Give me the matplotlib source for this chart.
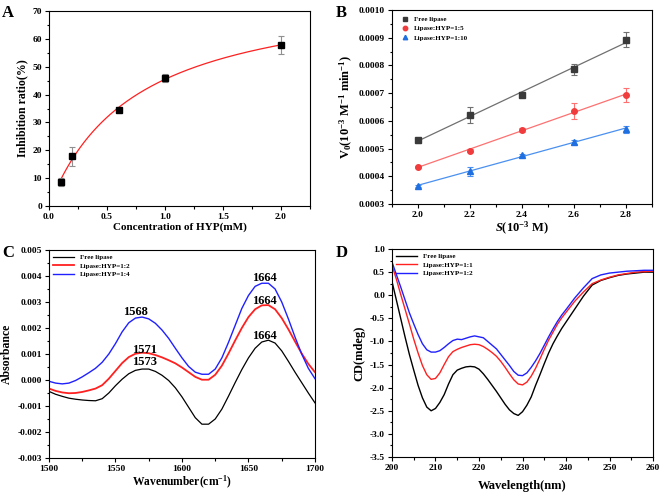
import numpy as np
import matplotlib
matplotlib.use('Agg')
import matplotlib.pyplot as plt
from matplotlib.ticker import MultipleLocator, FormatStrFormatter

plt.rcParams['font.family'] = 'Liberation Serif'
plt.rcParams['font.weight'] = 'bold'
plt.rcParams['axes.labelweight'] = 'bold'
plt.rcParams['axes.unicode_minus'] = False
plt.rcParams['mathtext.fontset'] = 'custom'
plt.rcParams['mathtext.rm'] = 'Liberation Serif:bold'
plt.rcParams['mathtext.it'] = 'Liberation Serif:italic:bold'
plt.rcParams['mathtext.bf'] = 'Liberation Serif:bold'

# ---- A: inhibition ratio
conc = [0.1, 0.2, 0.6, 1.0, 2.0]
inhib = [8.7, 17.8, 34.5, 46.0, 57.8]
inhib_err = [1.5, 3.5, 0.8, 1.5, 3.4]

# ---- B: V0 vs S
s_conc = [2.0, 2.2, 2.4, 2.6, 2.8]
v_free = [0.000530, 0.000622, 0.000695, 0.000786, 0.000892]
v_free_err = [0.000010, 0.000028, 0.000005, 0.000021, 0.000027]
v_15 = [0.000434, 0.000493, 0.000567, 0.000636, 0.000693]
v_15_err = [0.000005, 0.000006, 0.000006, 0.000028, 0.000025]
v_110 = [0.000365, 0.000418, 0.000477, 0.000525, 0.000570]
v_110_err = [0.000005, 0.000016, 0.000005, 0.000007, 0.000013]
b_labels = ['Free lipase', 'Lipase:HYP=1:5', 'Lipase:HYP=1:10']

# ---- C: FTIR
wn = list(range(1500, 1701, 5))
ab_free = [-0.44, -0.55, -0.63, -0.70, -0.74, -0.77, -0.79, -0.80, -0.72, -0.50,
           -0.22, 0.03, 0.24, 0.37, 0.42, 0.42, 0.33, 0.18, -0.02, -0.30,
           -0.65, -1.05, -1.45, -1.70, -1.70, -1.50, -1.12, -0.62, -0.10, 0.40,
           0.85, 1.22, 1.46, 1.53, 1.42, 1.12, 0.72, 0.30, -0.10, -0.50, -0.88]
ab_12 = [-0.33, -0.42, -0.48, -0.51, -0.50, -0.46, -0.40, -0.33, -0.20, 0.05,
         0.35, 0.65, 0.88, 1.01, 1.05, 1.03, 0.96, 0.87, 0.76, 0.64,
         0.48, 0.30, 0.12, 0.01, 0.01, 0.20, 0.55, 1.02, 1.52, 2.00,
         2.42, 2.72, 2.87, 2.88, 2.72, 2.38, 1.95, 1.48, 1.02, 0.62, 0.30]
ab_14 = [-0.05, -0.12, -0.15, -0.12, -0.02, 0.12, 0.28, 0.45, 0.68, 1.00,
         1.40, 1.85, 2.20, 2.38, 2.42, 2.35, 2.18, 1.92, 1.60, 1.22,
         0.85, 0.52, 0.30, 0.22, 0.22, 0.42, 0.85, 1.45, 2.10, 2.75,
         3.25, 3.60, 3.72, 3.72, 3.50, 3.00, 2.35, 1.65, 1.00, 0.45, 0.05]
c_labels = ['Free lipase', 'Lipase:HYP=1:2', 'Lipase:HYP=1:4']

# ---- D: CD
wl = list(range(200, 241)) + list(range(242, 261, 2))
cd_free = [0.30, -0.10, -0.50, -0.90, -1.28, -1.62, -1.95, -2.22, -2.42, -2.50,
           -2.45, -2.32, -2.15, -1.92, -1.72, -1.62, -1.58, -1.55, -1.54, -1.55,
           -1.60, -1.70, -1.82, -1.95, -2.08, -2.22, -2.36, -2.48, -2.56, -2.60,
           -2.52, -2.38, -2.20, -1.95, -1.72, -1.48, -1.25, -1.05, -0.88, -0.72,
           -0.58, -0.30, -0.02, 0.22, 0.32, 0.38, 0.43, 0.46, 0.48, 0.50, 0.50]
cd_11 = [0.65, 0.35, 0.02, -0.30, -0.62, -0.95, -1.25, -1.52, -1.72, -1.82,
         -1.80, -1.68, -1.50, -1.33, -1.22, -1.17, -1.13, -1.10, -1.07, -1.06,
         -1.07, -1.11, -1.17, -1.24, -1.32, -1.43, -1.56, -1.70, -1.83, -1.92,
         -1.94, -1.88, -1.75, -1.58, -1.38, -1.17, -0.97, -0.80, -0.63, -0.49,
         -0.37, -0.13, 0.07, 0.25, 0.33, 0.39, 0.44, 0.47, 0.50, 0.51, 0.52]
cd_12 = [0.72, 0.45, 0.18, -0.10, -0.38, -0.62, -0.85, -1.05, -1.18, -1.23,
         -1.23, -1.20, -1.13, -1.05, -0.98, -0.95, -0.96, -0.93, -0.90, -0.88,
         -0.90, -0.92, -1.00, -1.08, -1.16, -1.28, -1.40, -1.52, -1.65, -1.73,
         -1.74, -1.68, -1.56, -1.42, -1.26, -1.08, -0.90, -0.73, -0.57, -0.43,
         -0.31, -0.06, 0.16, 0.36, 0.44, 0.48, 0.50, 0.52, 0.53, 0.54, 0.54]
d_labels = ['Free lipase', 'Lipase:HYP=1:1', 'Lipase:HYP=1:2']

fig = plt.figure(figsize=(6.61, 4.94), dpi=100)
axA = fig.add_axes([0.0741, 0.583, 0.3949, 0.3947])
axB = fig.add_axes([0.593, 0.587, 0.3934, 0.3927])
axC = fig.add_axes([0.0741, 0.0729, 0.4024, 0.4211])
axD = fig.add_axes([0.593, 0.0749, 0.395, 0.421])


def style(ax):
    ax.tick_params(which='both', direction='out', top=False, right=False,
                   labelsize=6.8, width=0.8, pad=2)
    ax.tick_params(which='major', length=3)
    ax.tick_params(which='minor', length=1.8)
    for sp in ax.spines.values():
        sp.set_linewidth(0.8)
    for lab in ax.get_xticklabels() + ax.get_yticklabels():
        lab.set_fontweight('bold')


# A: hyperbolic fit y = vmax*x/(km+x), least squares over km
x = np.array(conc)
y = np.array(inhib)
best = None
for km in np.linspace(0.1, 3.0, 2901):
    f = x / (km + x)
    vmax = np.sum(y * f) / np.sum(f * f)
    sse = np.sum((y - vmax * f) ** 2)
    if best is None or sse < best[0]:
        best = (sse, km, vmax)
_, km, vmax = best
xf = np.linspace(0.1, 2.0, 200)
axA.plot(xf, vmax * xf / (km + xf), color='#ff2020', lw=0.9)
axA.errorbar(conc, inhib, yerr=inhib_err, fmt='s', color='black', ms=4,
             ecolor='#909090', elinewidth=0.8, capsize=2, capthick=0.8)
axA.set_xlim(0, 2.25)
axA.set_ylim(0, 70)
axA.xaxis.set_major_locator(MultipleLocator(0.5))
axA.xaxis.set_minor_locator(MultipleLocator(0.25))
axA.yaxis.set_major_locator(MultipleLocator(10))
axA.yaxis.set_minor_locator(MultipleLocator(5))
axA.xaxis.set_major_formatter(FormatStrFormatter('%.1f'))
axA.set_xlabel('Concentration of HYP(mM)', fontsize=8, labelpad=1)
axA.set_ylabel('Inhibition ratio(%)', fontsize=8.5, labelpad=3)
style(axA)

# B
b_series = [(v_free, v_free_err, 's', '#3a3a3a', '#707070'),
            (v_15, v_15_err, 'o', '#f03c3c', '#ff7070'),
            (v_110, v_110_err, '^', '#1f6fe0', '#4a90f0')]
for (vals, errs, mk, col, lcol), lab in zip(b_series, b_labels):
    p = np.polyfit(s_conc, vals, 1)
    xs = np.array([2.0, 2.8])
    axB.plot(xs, np.polyval(p, xs), color=lcol, lw=0.9)
    axB.errorbar(s_conc, vals, yerr=errs, fmt=mk, color=col, ms=4,
                 ecolor=lcol, elinewidth=0.8, capsize=2, capthick=0.8,
                 label=lab)
axB.set_xlim(1.9, 2.9)
axB.set_ylim(0.0003, 0.0010)
axB.xaxis.set_major_locator(MultipleLocator(0.2))
axB.xaxis.set_minor_locator(MultipleLocator(0.1))
axB.yaxis.set_major_locator(MultipleLocator(0.0001))
axB.yaxis.set_minor_locator(MultipleLocator(0.00005))
axB.xaxis.set_major_formatter(FormatStrFormatter('%.1f'))
axB.yaxis.set_major_formatter(FormatStrFormatter('%.4f'))
axB.set_xlabel(r'$\mathit{S}$(10$^{-3}$ M)', fontsize=9, labelpad=1)
axB.set_ylabel(r'V$_0$(10$^{-3}$ M$^{-1}$ min$^{-1}$)', fontsize=9, labelpad=3)
hs, ls = axB.get_legend_handles_labels()
hs = [h[0] for h in hs]
axB.legend(hs, ls, loc='upper left', frameon=False,
           prop={'weight': 'bold', 'size': 5}, handletextpad=0.3,
           borderaxespad=0.5, labelspacing=0.5, markerscale=0.8)
style(axB)

# C
wn_arr = np.array(wn)
for vals, col, lw, lab in zip([ab_free, ab_12, ab_14], ['black', '#ff2020', '#2020ff'],
                              [0.9, 1.3, 1.0], c_labels):
    axC.plot(wn_arr, np.array(vals) * 1e-3, color=col, lw=lw, label=lab)
peaks = [('1568', 1565, 0.00262), ('1571', 1572, 0.00116), ('1573', 1572, 0.00068),
         ('1664', 1662, 0.00391), ('1664', 1662, 0.00304), ('1664', 1662, 0.00171)]
for t, px, py in peaks:
    axC.text(px, py, t, ha='center', va='center', fontsize=9, fontweight='bold')
axC.set_xlim(1500, 1700)
axC.set_ylim(-0.003, 0.005)
axC.xaxis.set_major_locator(MultipleLocator(50))
axC.xaxis.set_minor_locator(MultipleLocator(25))
axC.yaxis.set_major_locator(MultipleLocator(0.001))
axC.yaxis.set_minor_locator(MultipleLocator(0.0005))
axC.yaxis.set_major_formatter(FormatStrFormatter('%.3f'))
axC.set_xlabel(r'Wavenumber(cm$^{-1}$)', fontsize=8.3, labelpad=1)
axC.set_ylabel('Absorbance', fontsize=8.5, labelpad=3)
axC.legend(loc='upper left', frameon=False, prop={'weight': 'bold', 'size': 5},
           handlelength=3, borderaxespad=0.2, labelspacing=0.4)
style(axC)

# D
for vals, col, lab in zip([cd_free, cd_11, cd_12], ['black', '#ff2020', '#2020ff'], d_labels):
    axD.plot(wl, vals, color=col, lw=1.0, label=lab)
axD.set_xlim(200, 260)
axD.set_ylim(-3.5, 1.0)
axD.xaxis.set_major_locator(MultipleLocator(10))
axD.xaxis.set_minor_locator(MultipleLocator(5))
axD.yaxis.set_major_locator(MultipleLocator(0.5))
axD.yaxis.set_minor_locator(MultipleLocator(0.25))
axD.yaxis.set_major_formatter(FormatStrFormatter('%.1f'))
axD.set_xlabel('Wavelength(nm)', fontsize=9, labelpad=6)
axD.set_ylabel('CD(mdeg)', fontsize=9, labelpad=3)
axD.legend(loc='upper left', frameon=False, prop={'weight': 'bold', 'size': 5},
           handlelength=3, borderaxespad=0.2, labelspacing=0.4)
style(axD)

for lab, xx, yy in [('A', 0.003, 0.99), ('B', 0.508, 0.99), ('C', 0.003, 0.505), ('D', 0.508, 0.505)]:
    fig.text(xx, yy, lab, fontsize=12, fontweight='bold', va='top', ha='left')

fig.savefig('out.png', dpi=100)
